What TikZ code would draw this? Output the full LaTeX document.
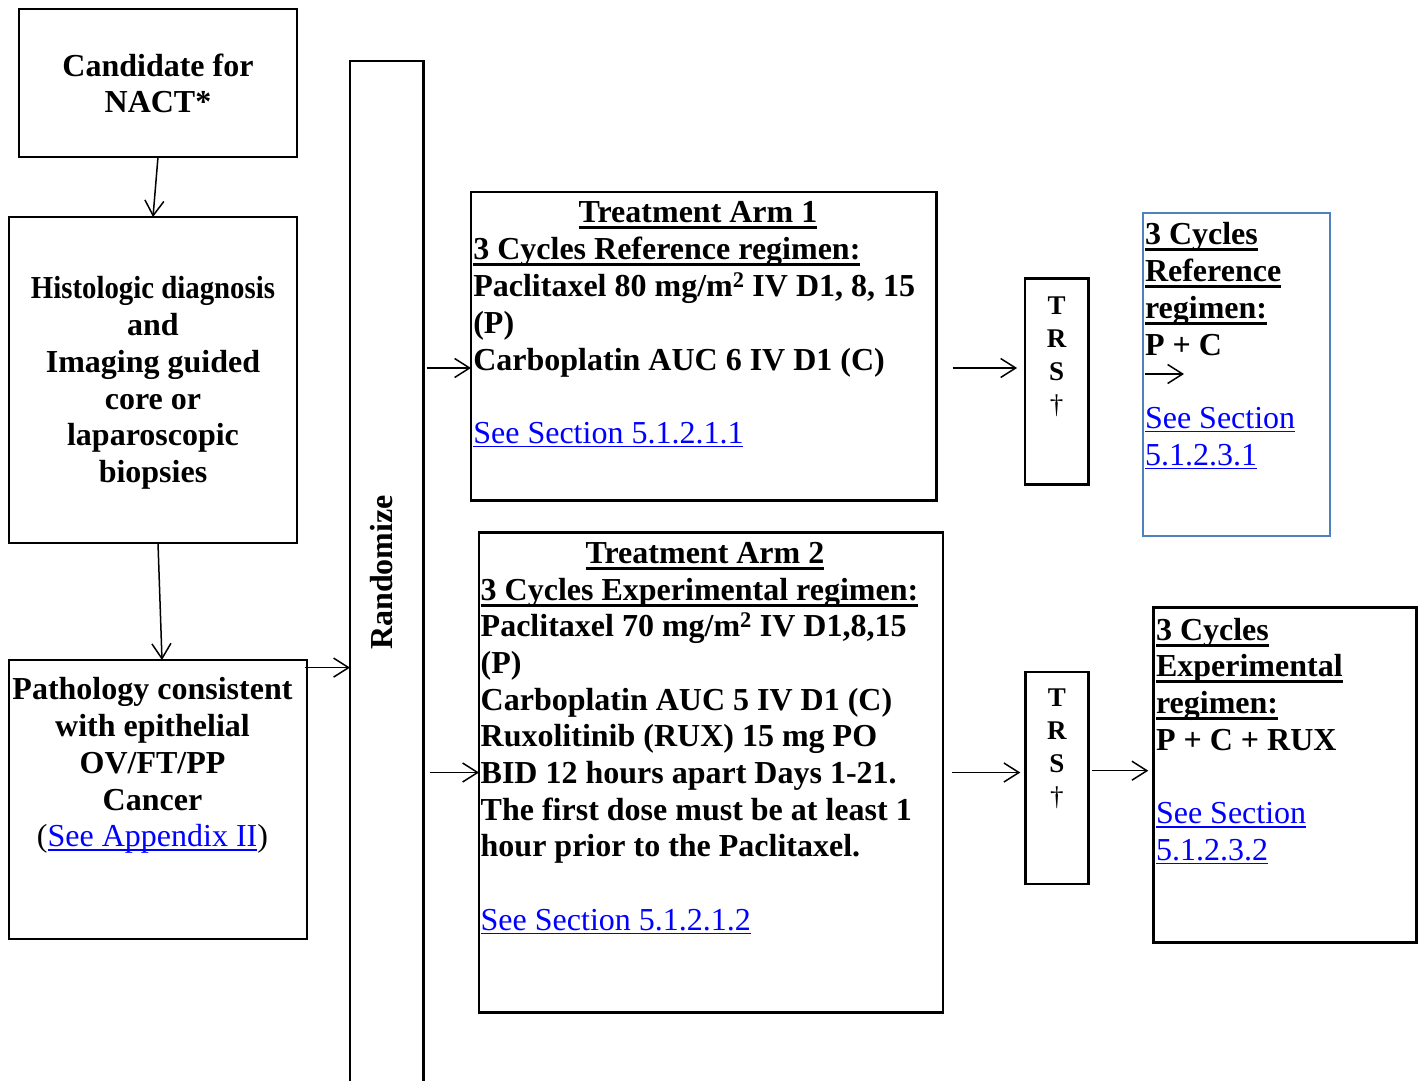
\documentclass[tikz,border=0pt]{standalone}
\usepackage{fontspec}
\setmainfont{Liberation Serif}
\usepackage{graphicx}
\usetikzlibrary{arrows.meta,positioning,calc}
\definecolor{linkblue}{RGB}{0,0,255}
\definecolor{refblue}{RGB}{79,129,189}
\newsavebox{\ulbox}
\newcommand{\hd}[1]{\sbox{\ulbox}{#1}\rlap{\rule[-6.5pt]{\wd\ulbox}{3pt}}\usebox{\ulbox}}
\newcommand{\lnk}[1]{{\mdseries\color{linkblue}\sbox{\ulbox}{#1}\rlap{\rule[-4pt]{\wd\ulbox}{1.5pt}}\usebox{\ulbox}}}

\begin{document}
\begin{tikzpicture}[x=1pt,y=-1pt,
  box/.style={draw,line width=2.5pt,inner sep=0pt,outer sep=0pt},
  txt/.style={inner sep=0pt,outer sep=0pt,font=\fontsize{32}{36.7}\selectfont\bfseries},
  trs/.style={inner sep=0pt,outer sep=0pt,align=center,font=\fontsize{27}{33}\selectfont\bfseries},
  arr/.style={line width=1.5pt,-{Straight Barb[length=15pt,width=19pt]}}]
\useasboundingbox (0,0) rectangle (1421,1081);
\node[box,minimum width=278pt,minimum height=148pt] (cand) at (158,83) {};
\node[box,minimum width=288pt,minimum height=326pt] (histo) at (153,380) {};
\node[box,minimum width=298pt,minimum height=279pt] (path) at (158,799.5) {};
\node[box,minimum width=73.5pt,minimum height=1023pt] (rand) at (386.75,572.5) {};
\node[box,minimum width=465.5pt,minimum height=308.5pt] (arm1) at (703.75,346.25) {};
\node[box,minimum width=464pt,minimum height=480.4pt] (arm2) at (711,772.5) {};
\node[box,minimum width=63.3pt,minimum height=206pt] (trs1) at (1056.7,381.3) {};
\node[box,minimum width=63pt,minimum height=212.3pt] (trs2) at (1056.8,777.9) {};
\node[box,draw=refblue,line width=2.2pt,minimum width=186.7pt,minimum height=322.7pt] (refc) at (1236.35,374.65) {};
\node[box,minimum width=263.4pt,minimum height=335.4pt] (expc) at (1285,775) {};

\node[txt,align=center,below=41.6pt of cand.north] (candt) {\strut Candidate for\\NACT*};
\node[txt,align=center,below=56.3pt of histo.north] (histot)
  {\strut\scalebox{0.9}[1]{Histologic diagnosis}\\and\\Imaging guided\\core or\\laparoscopic\\biopsies};
\node[txt,align=center,below=14.3pt of path.north,xshift=-5.5pt] (patht)
  {\strut Pathology consistent\\with epithelial\\OV/FT/PP\\Cancer\\{\mdseries(}\lnk{See Appendix II}{\mdseries)}};
\node[txt,rotate=90] (randt) at ([xshift=-5pt]rand.center) {Randomize};

\node[txt,below=5.3pt of arm1.north,xshift=-5.75pt] (arm1h) {\strut\hd{Treatment Arm 1}};
\node[txt,align=left,below right=42.3pt and 2.3pt of arm1.north west] (arm1t)
  {\strut\hd{3 Cycles Reference regimen:}\\Paclitaxel 80 mg/m\textsuperscript{2} IV D1, 8, 15\\(P)\\Carboplatin AUC 6 IV D1 (C)\\\mbox{}\\\lnk{See Section 5.1.2.1.1}};
\node[txt,below=5.3pt of arm2.north,xshift=-6pt] (arm2h) {\strut\hd{Treatment Arm 2}};
\node[txt,align=left,below right=42pt and 1.7pt of arm2.north west] (arm2t)
  {\strut\hd{3 Cycles Experimental regimen:}\\Paclitaxel 70 mg/m\textsuperscript{2} IV D1,8,15\\(P)\\Carboplatin AUC 5 IV D1 (C)\\Ruxolitinib (RUX) 15 mg PO\\BID 12 hours apart Days 1-21.\\The first dose must be at least 1\\hour prior to the Paclitaxel.\\\mbox{}\\\lnk{See Section 5.1.2.1.2}};

\node[trs,below=12.9pt of trs1.north] (trs1t) {\strut T\\R\\S\\{\mdseries †}};
\node[trs,below=11.9pt of trs2.north] (trs2t) {\strut T\\R\\S\\{\mdseries †}};

\node[txt,align=left,below right=6pt and 2pt of refc.north west] (refct)
  {\strut\hd{3 Cycles}\\\hd{Reference}\\\hd{regimen:}\\P + C\\\mbox{}\\\lnk{See Section}\\\lnk{5.1.2.3.1}};
\node[txt,align=left,below right=7pt and 2.7pt of expc.north west] (expct)
  {\strut\hd{3 Cycles}\\\hd{Experimental}\\\hd{regimen:}\\P + C + RUX\\\mbox{}\\\lnk{See Section}\\\lnk{5.1.2.3.2}};

\coordinate (p1) at ([xshift=-2pt,yshift=-7.6pt]path.north east);
\coordinate (a1) at ([yshift=-21.75pt]arm1.west);
\coordinate (t2) at ([xshift=3.5pt,yshift=7.2pt]trs2.east);
\coordinate[below right=160.7pt and 2pt of refc.north west] (rs);

\draw[arr] (cand.south) -- (histo.north);
\draw[arr] ([xshift=5pt]histo.south) -- ([xshift=4pt]path.north);
\draw[arr] (p1) -- (p1 -| rand.west);
\draw[arr] ([xshift=3pt]rand.east |- a1) -- (a1);
\draw[arr] ([xshift=6pt]rand.east |- arm2.west) -- (arm2.west);
\draw[arr] ([xshift=16pt]arm1.east |- a1) -- ([xshift=-8pt]trs1.west |- a1);
\draw[arr] ([xshift=9pt]arm2.east) -- ([xshift=-5pt]trs2.west |- arm2.east);
\draw[arr] (t2) -- ([xshift=-5pt]t2 -| expc.west);
\draw[arr] (rs) -- ++(39pt,0);
\end{tikzpicture}
\end{document}
